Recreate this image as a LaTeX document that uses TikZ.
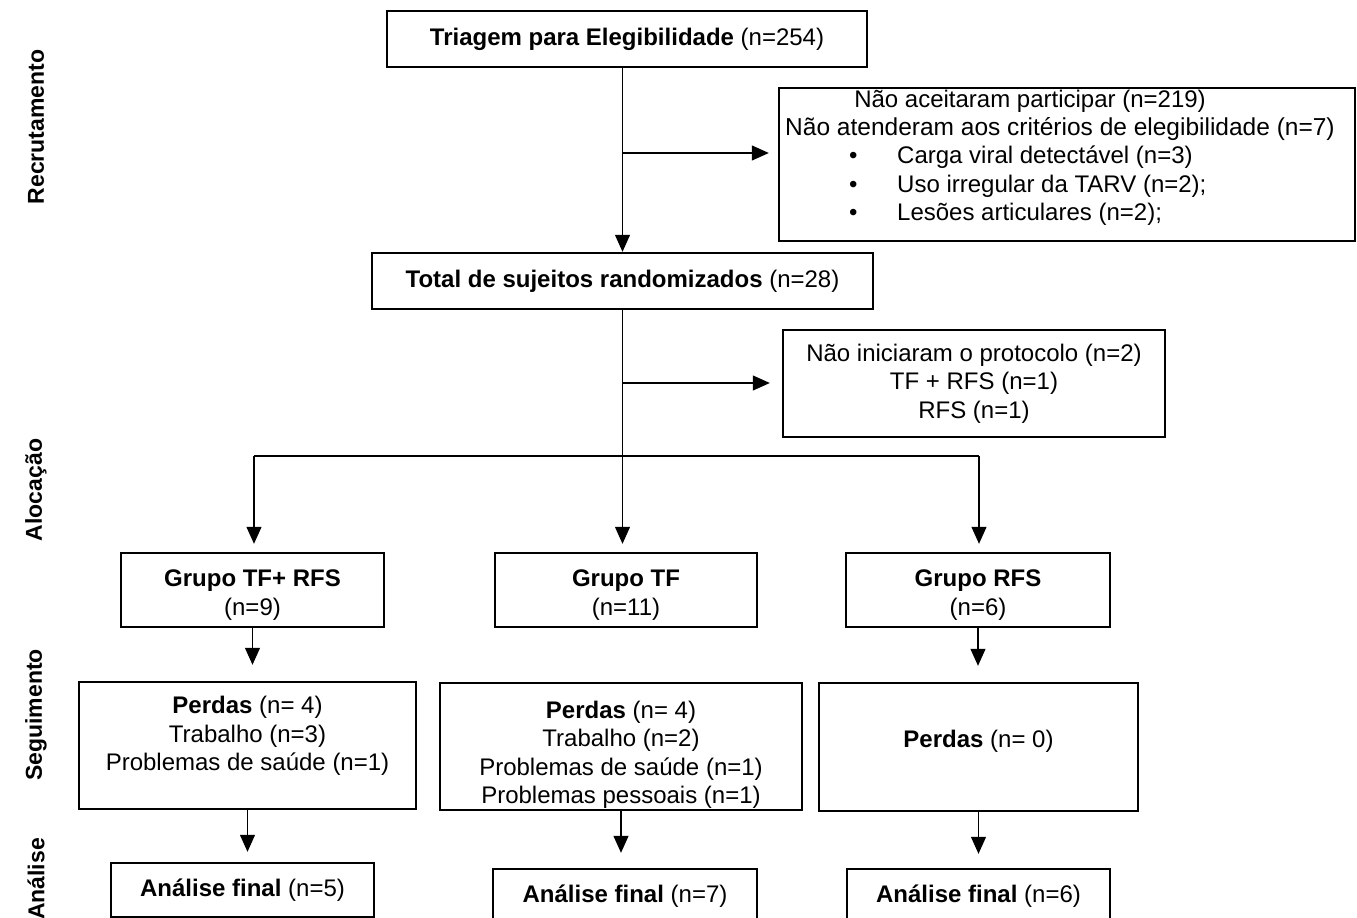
\documentclass[tikz,border=0pt]{standalone}
\usepackage{fontspec}
\setmainfont{Liberation Sans}
\usetikzlibrary{positioning,arrows.meta}

\begin{document}
\begin{tikzpicture}[x=1pt, y=-1pt, font=\fontsize{24}{28.5}\selectfont,
    box/.style={draw, rectangle, line width=2.4pt, align=center},
    arrow/.style={-{Triangle[width=15pt,length=17pt]}, line width=1.2pt},
    link/.style={line width=1.2pt},
    phase/.style={rotate=90, font=\fontsize{23}{26}\selectfont\bfseries}
]
\useasboundingbox (0,0) rectangle (1357,918);

% Phases
\node[phase] (recrut) at (36,127) {Recrutamento};
\node[phase] (aloc) at (36,490) {Alocação};
\node[phase] (segui) at (36,715) {Seguimento};
\node[phase] (anal) at (36,879) {Análise};

% Recruitment
\node[box, minimum width=480pt, minimum height=56pt] (triagem) at (627,39) {\textbf{Triagem para Elegibilidade} (n=254)};
\node[box, minimum width=576pt, minimum height=153pt] (excl1) at (1067,164.5) {};
\node (excl1a) at (1030,101) {Não aceitaram participar (n=219)};
\node[font=\fontsize{24.5}{28.5}\selectfont] (excl1b) at (1060,129) {Não atenderam aos critérios de elegibilidade (n=7)};
\node[anchor=west, align=left, inner sep=0pt] (excl1list) at (849,186) {%
    \makebox[48pt][l]{•}Carga viral detectável (n=3)\\
    \makebox[48pt][l]{•}Uso irregular da TARV (n=2);\\
    \makebox[48pt][l]{•}Lesões articulares (n=2);};
\node[box, minimum width=501pt, minimum height=56pt] (total) at (622.5,281) {\textbf{Total de sujeitos randomizados} (n=28)};
\node[box, minimum width=382pt, minimum height=107pt] (excl2) at (974,383.5) {Não iniciaram o protocolo (n=2)\\TF + RFS (n=1)\\RFS (n=1)};

% Groups
\node[box, minimum width=263pt, minimum height=74pt] (g1) at (252.5,590) {};
\node[align=center] (g1txt) at (252.5,595) {\textbf{Grupo TF+ RFS}\\(n=9)};
\node[box, minimum width=262pt, minimum height=74pt] (g2) at (626,590) {};
\node[align=center] (g2txt) at (626,595) {\textbf{Grupo TF}\\(n=11)};
\node[box, minimum width=264pt, minimum height=74pt] (g3) at (978,590) {};
\node[align=center] (g3txt) at (978,595) {\textbf{Grupo RFS}\\(n=6)};

% Follow-up
\node[box, minimum width=337pt, minimum height=127pt] (p1) at (247.5,745.5) {};
\node[align=center] (p1txt) at (247.5,736) {\textbf{Perdas} (n= 4)\\Trabalho (n=3)\\Problemas de saúde (n=1)};
\node[box, minimum width=362pt, minimum height=127pt] (p2) at (621,746.5) {};
\begin{scope}
    \clip (p2.south west) rectangle (p2.north east);
    \node[align=center] (p2txt) at (621,755) {\textbf{Perdas} (n= 4)\\Trabalho (n=2)\\Problemas de saúde (n=1)\\Problemas pessoais (n=1)};
\end{scope}
\node[box, minimum width=319pt, minimum height=128pt] (p3) at (978.5,747) {};
\node (p3txt) at (978.5,741) {\textbf{Perdas} (n= 0)};

% Analysis
\node[box, minimum width=263pt, minimum height=54pt] (a1) at (242.5,890) {\textbf{Análise final} (n=5)};
\node[box, minimum width=264pt, minimum height=54pt] (a2) at (625,896) {\textbf{Análise final} (n=7)};
\node[box, minimum width=263pt, minimum height=54pt] (a3) at (978.5,896) {\textbf{Análise final} (n=6)};

% Connections
\coordinate (stem1) at (622.5,153);
\coordinate (stem2) at (622.5,383);
\coordinate (splitl) at (254,456);
\coordinate (splitr) at (979,456);
\draw[arrow] (triagem.south -| total.north) -- (total.north);
\draw[arrow, shorten >=9pt] (stem1) -- (stem1 -| excl1.west);
\draw[arrow, shorten >=8pt] (total.south) -- (total.south |- g2.north);
\draw[arrow, shorten >=12pt] (stem2) -- (stem2 -| excl2.west);
\draw[link] (splitl) -- (splitr);
\draw[arrow, shorten >=8pt] (splitl) -- (splitl |- g1.north);
\draw[arrow, shorten >=8pt] (splitr) -- (splitr |- g3.north);
\draw[arrow, shorten >=16pt] (g1.south) -- (g1.south |- p1.north);
\draw[arrow, shorten >=16pt] (g3.south) -- (g3.south |- p3.north);
\draw[arrow, shorten >=10pt] (p1.south) -- (p1.south |- a1.north);
\draw[arrow, shorten >=15pt] (p2.south) -- (p2.south |- a2.north);
\draw[arrow, shorten >=14pt] (p3.south) -- (p3.south |- a3.north);

\end{tikzpicture}
\end{document}
